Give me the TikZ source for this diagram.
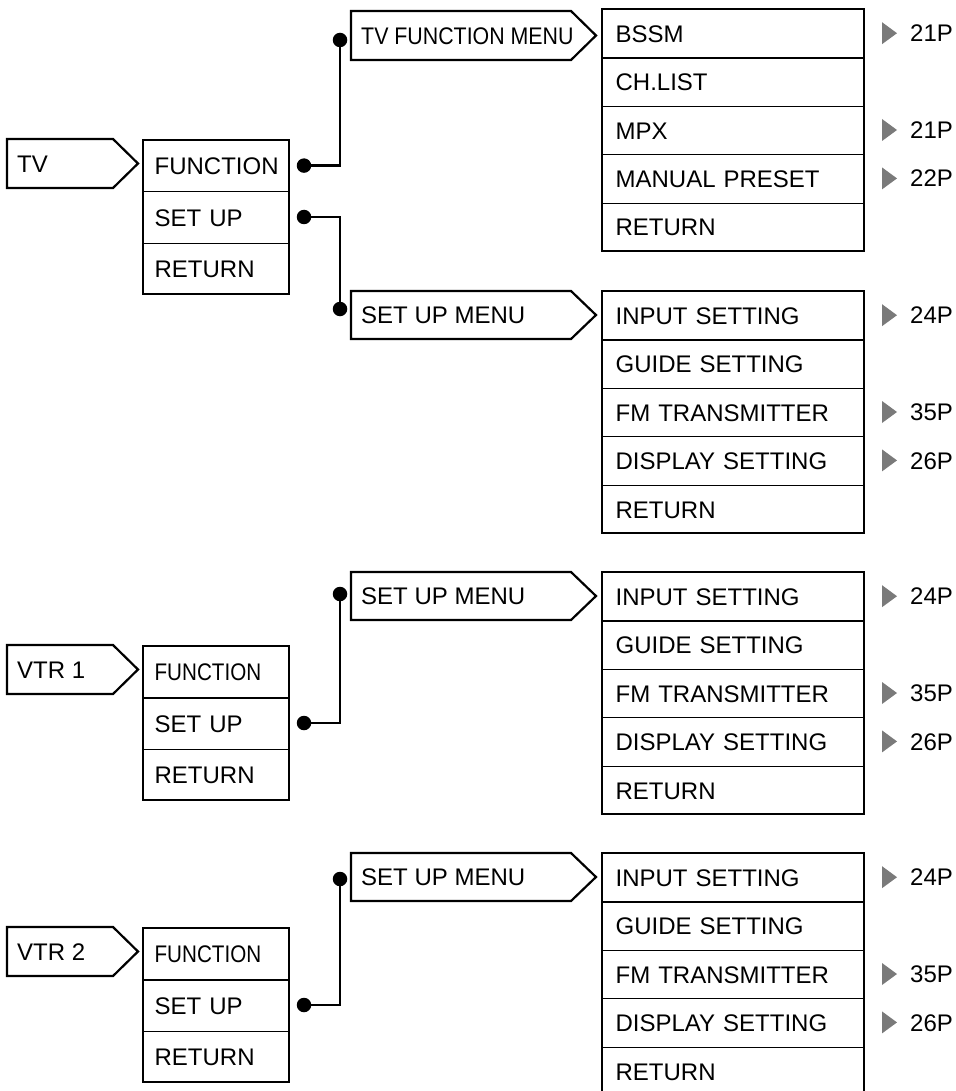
\documentclass[tikz,border=0pt]{standalone}
\usepackage{fontspec}
\setmainfont{Liberation Sans}
\usepackage{graphicx}
\definecolor{trigray}{HTML}{7A7A7A}
\tikzset{
  lrow/.style={draw, line width=1.2pt, anchor=north west, inner xsep=11pt, inner ysep=0pt,
    text width=124pt, minimum height=51.3pt, text height=17.2pt, text depth=0pt, align=left},
  rrow/.style={draw, line width=1.2pt, anchor=north west, inner xsep=13pt, inner ysep=0pt,
    text width=236pt, minimum height=48.4pt, text height=17.2pt, text depth=0pt, align=left},
  frame/.style={line width=2.4pt},
  pent/.style={draw, line width=2.2pt, line join=miter},
  ptext/.style={anchor=west, inner xsep=0pt, inner ysep=0pt, text height=17.2pt, text depth=0pt},
  wire/.style={line width=2.4pt},
  bdot/.style={circle, fill=black, inner sep=0pt, minimum size=14.5pt},
  pref/.style={anchor=west, inner sep=0pt, text height=17.2pt, text depth=0pt},
}
\newcommand{\pentagonbox}[6]{%
  \draw[pent] (#2,#4) -- ({#3-25},#4) -- (#3,{(#4+#5)/2}) -- ({#3-25},#5) -- (#2,#5) -- cycle;
  \node[ptext] (#1) at ({#2+10},{(#4+#5)/2}) {#6};}
\newcommand{\ptri}[3]{% name, y centre, text
  \fill[trigray] (882,{#2-11}) -- (897,#2) -- (882,{#2+11}) -- cycle;
  \node[pref] (#1) at (910,#2) {#3};}
\begin{document}
\begin{tikzpicture}[x=1pt,y=-1pt,font=\fontsize{24}{28}\selectfont]
\useasboundingbox (0,0) rectangle (955,1091);
\clip (0,0) rectangle (955,1091);

% ---------------- Section A : TV ----------------
\pentagonbox{tv}{7}{138}{139}{188}{TV}
\node[lrow] (aF) at (143,140) {FUNCTION};
\node[lrow] (aS) at (143,191.3) {SET UP};
\node[lrow] (aR) at (143,242.6) {RETURN};
\draw[frame] (143,140) rectangle (289,294);

\pentagonbox{tvfm}{351}{596}{11}{60}{\scalebox{0.89}[1]{TV FUNCTION MENU}}
\node[rrow] (a1) at (602,9) {BSSM};
\node[rrow] (a2) at (602,57.4) {CH.LIST};
\node[rrow] (a3) at (602,105.8) {MPX};
\node[rrow] (a4) at (602,154.2) {MANUAL PRESET};
\node[rrow] (a5) at (602,202.6) {RETURN};
\draw[frame] (602,9) rectangle (864,251);
\ptri{pa1}{33.2}{21P}
\ptri{pa3}{130}{21P}
\ptri{pa4}{178.4}{22P}

\node[bdot] (dAF) at (304,165.6) {};
\node[bdot] (dAT) at (340,40) {};
\draw[wire] (dAF.center) -| (dAT.center);
\node[bdot] (dAS) at (304,217) {};
\node[bdot] (dBT) at (340,309) {};
\draw[wire] (dAS.center) -| (dBT.center);

% ---------------- Section B : TV set up ----------------
\pentagonbox{sumB}{351}{596}{291}{339}{SET UP MENU}
\node[rrow] (b1) at (602,291) {INPUT SETTING};
\node[rrow] (b2) at (602,339.4) {GUIDE SETTING};
\node[rrow] (b3) at (602,387.8) {FM TRANSMITTER};
\node[rrow] (b4) at (602,436.2) {DISPLAY SETTING};
\node[rrow] (b5) at (602,484.6) {RETURN};
\draw[frame] (602,291) rectangle (864,533);
\ptri{pb1}{315.2}{24P}
\ptri{pb3}{412}{35P}
\ptri{pb4}{460.4}{26P}

% ---------------- Section C : VTR 1 ----------------
\pentagonbox{vtr1}{7}{138}{645}{694}{VTR 1}
\node[lrow] (cF) at (143,646) {\scalebox{0.86}[1]{FUNCTION}};
\node[lrow] (cS) at (143,697.3) {SET UP};
\node[lrow] (cR) at (143,748.6) {RETURN};
\draw[frame] (143,646) rectangle (289,800);

\pentagonbox{sumC}{351}{596}{572}{620}{SET UP MENU}
\node[rrow] (c1) at (602,572) {INPUT SETTING};
\node[rrow] (c2) at (602,620.4) {GUIDE SETTING};
\node[rrow] (c3) at (602,668.8) {FM TRANSMITTER};
\node[rrow] (c4) at (602,717.2) {DISPLAY SETTING};
\node[rrow] (c5) at (602,765.6) {RETURN};
\draw[frame] (602,572) rectangle (864,814);
\ptri{pc1}{596.2}{24P}
\ptri{pc3}{693}{35P}
\ptri{pc4}{741.4}{26P}

\node[bdot] (dCS) at (304,723) {};
\node[bdot] (dCT) at (340,594) {};
\draw[wire] (dCS.center) -| (dCT.center);

% ---------------- Section D : VTR 2 ----------------
\pentagonbox{vtr2}{7}{138}{927}{976}{VTR 2}
\node[lrow] (dF) at (143,928) {\scalebox{0.86}[1]{FUNCTION}};
\node[lrow] (dS) at (143,979.3) {SET UP};
\node[lrow] (dR) at (143,1030.6) {RETURN};
\draw[frame] (143,928) rectangle (289,1082);

\pentagonbox{sumD}{351}{596}{853}{901}{SET UP MENU}
\node[rrow] (e1) at (602,853) {INPUT SETTING};
\node[rrow] (e2) at (602,901.4) {GUIDE SETTING};
\node[rrow] (e3) at (602,949.8) {FM TRANSMITTER};
\node[rrow] (e4) at (602,998.2) {DISPLAY SETTING};
\node[rrow, draw=none] (e5) at (602,1046.6) {RETURN};
\draw[frame] (602,1110) -- (602,853) -- (864,853) -- (864,1110);
\ptri{pd1}{877.2}{24P}
\ptri{pd3}{974}{35P}
\ptri{pd4}{1022.4}{26P}

\node[bdot] (dDS) at (304,1005) {};
\node[bdot] (dDT) at (340,879) {};
\draw[wire] (dDS.center) -| (dDT.center);
\end{tikzpicture}
\end{document}
